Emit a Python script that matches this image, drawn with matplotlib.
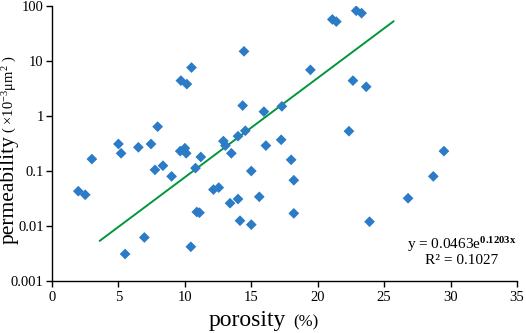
import numpy as np
import matplotlib
matplotlib.use('Agg')
import matplotlib.pyplot as plt

# 字体设置 (Times 风格)
plt.rcParams['font.family'] = ['Liberation Serif', 'DejaVu Serif']
plt.rcParams['mathtext.fontset'] = 'custom'
plt.rcParams['mathtext.rm'] = 'Liberation Serif'
plt.rcParams['mathtext.it'] = 'Liberation Serif:italic'
plt.rcParams['mathtext.bf'] = 'Liberation Serif:bold'

# 数据
porosity = [1.98, 2.5, 3.0, 5.0, 5.2, 5.5, 6.5, 6.95, 7.45, 7.75, 7.95, 8.35,
            9.0, 9.65, 9.7, 10.0, 10.1, 10.15, 10.5, 10.45, 10.8, 10.9, 11.1,
            11.2, 12.15, 12.55, 12.9, 13.05, 13.4, 13.5, 14.0, 14.0, 14.15,
            14.35, 14.45, 14.55, 15.0, 15.0, 15.6, 15.95, 16.1, 17.25, 17.3,
            18.0, 18.2, 18.2, 19.45, 21.1, 21.4, 22.35, 22.65, 22.9, 23.3,
            23.65, 23.9, 26.8, 28.7, 29.5]
permeability = [0.043, 0.037, 0.165, 0.31, 0.21, 0.0031, 0.27, 0.0062, 0.31,
                0.105, 0.64, 0.125, 0.08, 0.23, 4.4, 0.26, 0.21, 3.8, 7.6,
                0.0042, 0.113, 0.018, 0.0175, 0.18, 0.046, 0.05, 0.35, 0.29,
                0.026, 0.21, 0.031, 0.43, 0.0125, 1.55, 15.0, 0.54, 0.1,
                0.0106, 0.034, 1.2, 0.29, 0.37, 1.5, 0.16, 0.068, 0.017, 6.9,
                57, 52, 0.53, 4.4, 82, 74, 3.4, 0.012, 0.032, 0.08, 0.23]

# 趋势线 (图中所画的两个端点)
trend_porosity = [3.6, 25.7]
trend_perm = [0.0054, 52.5]

xticks = [0, 5, 10, 15, 20, 25, 30, 35]
yticks = [0.001, 0.01, 0.1, 1, 10, 100]
ytick_labels = ['0.001', '0.01', '0.1', '1', '10', '100']

fig = plt.figure(figsize=(5.26, 3.33), dpi=100)
ax = fig.add_axes([0.0989, 0.156, 0.884, 0.826])

ax.scatter(porosity, permeability, marker='D', s=30, color='#2b7bc6',
           edgecolors='none', zorder=3)
ax.plot(trend_porosity, trend_perm, color='#00963c', lw=1.4, zorder=2)

ax.set_yscale('log')
ax.set_xlim(0, 35)
ax.set_ylim(0.001, 100)
ax.set_xticks(xticks)
ax.set_xticklabels([str(t) for t in xticks])
ax.set_yticks(yticks)
ax.set_yticklabels(ytick_labels)
ax.yaxis.set_minor_locator(matplotlib.ticker.NullLocator())

for side in ['top', 'right']:
    ax.spines[side].set_visible(False)
for side in ['left', 'bottom']:
    ax.spines[side].set_linewidth(1.0)
ax.tick_params(axis='both', direction='out', length=4, width=1.0,
               labelsize=10.5, pad=3)
ax.tick_params(axis='y', pad=2)

# 公式
ax.text(0.88, 0.131, 'y = 0.0463e$^{\\mathbf{0.1203x}}$', transform=ax.transAxes,
        ha='center', va='center', fontsize=11)
ax.text(0.88, 0.076, 'R\u00b2 = 0.1027', transform=ax.transAxes,
        ha='center', va='center', fontsize=11)

# 坐标轴标题 (大小字号混排)
W, H = fig.get_size_inches() * fig.dpi
t1 = fig.text(14 / W, 1 - 244 / H, 'permeability', rotation=90,
              rotation_mode='anchor', ha='left', va='baseline', fontsize=15.5)
t3 = fig.text(209 / W, 1 - 326 / H, 'porosity', ha='left', va='baseline',
              fontsize=17)
fig.canvas.draw()
r = fig.canvas.get_renderer()
b1 = t1.get_window_extent(r)
fig.text(14 / W, (b1.y1 + 2) / H, '( \u00d710$^{-3}$\u03bcm$^{2}$ )',
         rotation=90, rotation_mode='anchor', ha='left', va='baseline',
         fontsize=10.5)
b3 = t3.get_window_extent(r)
fig.text((b3.x1 + 7) / W, 1 - 326 / H, '(%)', ha='left', va='baseline',
         fontsize=12)

fig.savefig('out.png', dpi=100)
